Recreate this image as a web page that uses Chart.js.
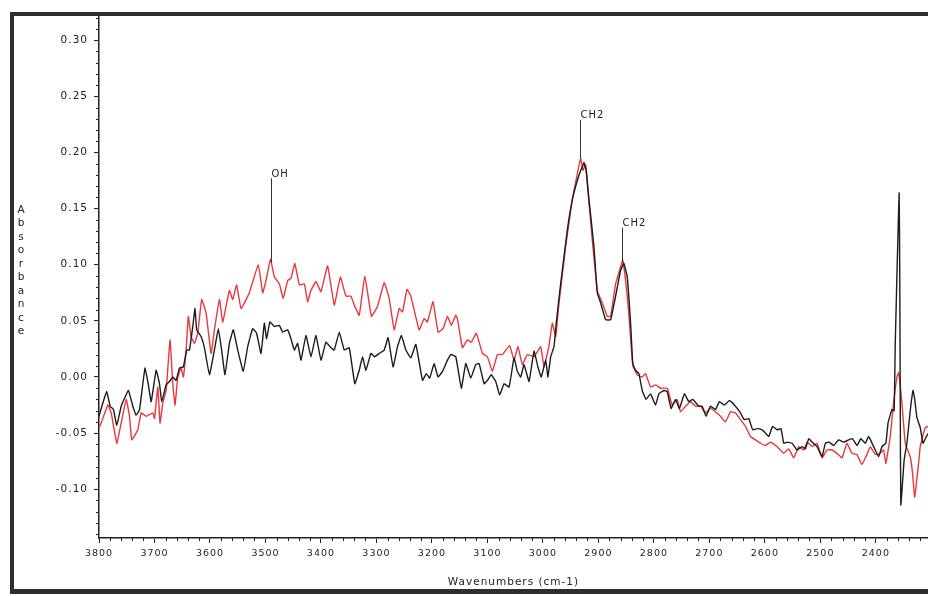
<!DOCTYPE html>
<html>
<head>
<meta charset="utf-8">
<script src="https://cdn.jsdelivr.net/npm/chart.js@4.4.1/dist/chart.umd.min.js"></script>
<style>
  html, body { margin: 0; padding: 0; background: #fff; overflow: hidden; }
  #wrap { position: relative; width: 928px; height: 596px; }
</style>
</head>
<body>
<div id="wrap"><canvas id="chart" width="928" height="596"></canvas></div>
<script>
// tick labels
const xTicks = [2400, 2500, 2600, 2700, 2800, 2900, 3000, 3100, 3200, 3300, 3400, 3500, 3600, 3700, 3800];
const yTicks = [-0.10, -0.05, 0.00, 0.05, 0.10, 0.15, 0.20, 0.25, 0.30];

// spectra: [wavenumber, absorbance]
const blackSpectrum = [
  [3800,-0.035],[3793,-0.023],[3786,-0.013],[3780,-0.026],[3774,-0.029],[3768,-0.043],[3760,-0.026],[3754,-0.019],
  [3747,-0.012],[3739,-0.026],[3733,-0.034],[3727,-0.029],[3721,-0.006],[3717,0.008],[3711,-0.007],[3706,-0.022],
  [3697,0.006],[3691,-0.006],[3687,-0.022],[3679,-0.007],[3673,-0.004],[3667,0.000],[3661,-0.003],[3655,0.008],
  [3648,0.009],[3642,0.024],[3637,0.024],[3631,0.045],[3627,0.061],[3624,0.042],[3616,0.036],[3610,0.026],
  [3601,0.002],[3592,0.024],[3585,0.043],[3579,0.024],[3573,0.002],[3565,0.030],[3558,0.042],[3550,0.024],
  [3540,0.005],[3532,0.027],[3523,0.043],[3516,0.039],[3508,0.021],[3502,0.048],[3498,0.034],[3492,0.049],
  [3484,0.045],[3475,0.046],[3469,0.040],[3460,0.042],[3454,0.034],[3448,0.024],[3442,0.030],[3436,0.015],
  [3427,0.037],[3418,0.018],[3409,0.037],[3400,0.015],[3391,0.031],[3382,0.026],[3376,0.024],[3367,0.040],
  [3358,0.024],[3349,0.026],[3339,-0.006],[3331,0.006],[3325,0.018],[3319,0.006],[3310,0.021],[3303,0.018],
  [3295,0.021],[3286,0.024],[3279,0.035],[3270,0.009],[3262,0.027],[3255,0.037],[3247,0.024],[3238,0.017],
  [3229,0.029],[3217,-0.003],[3210,0.003],[3204,-0.001],[3196,0.012],[3189,0.000],[3181,0.005],[3172,0.015],
  [3166,0.020],[3157,0.018],[3147,-0.010],[3139,0.012],[3130,-0.001],[3121,0.011],[3115,0.012],[3106,-0.006],
  [3100,-0.003],[3093,0.002],[3085,-0.004],[3078,-0.016],[3070,-0.006],[3061,-0.009],[3052,0.017],[3046,0.005],
  [3040,0.000],[3034,0.011],[3025,-0.004],[3016,0.023],[3009,0.009],[3003,0.000],[2995,0.015],[2991,0.000],
  [2986,0.018],[2980,0.027],[2976,0.048],[2968,0.083],[2956,0.131],[2947,0.158],[2938,0.175],[2932,0.184],
  [2929,0.187],[2926,0.191],[2922,0.184],[2917,0.158],[2908,0.116],[2902,0.075],[2896,0.066],[2887,0.051],
  [2878,0.051],[2869,0.072],[2860,0.095],[2854,0.101],[2848,0.089],[2842,0.048],[2838,0.012],[2833,0.006],
  [2827,0.003],[2821,-0.012],[2814,-0.020],[2806,-0.015],[2797,-0.025],[2791,-0.015],[2782,-0.012],[2776,-0.013],
  [2769,-0.028],[2761,-0.020],[2754,-0.028],[2745,-0.015],[2737,-0.022],[2730,-0.020],[2719,-0.026],[2713,-0.026],
  [2706,-0.035],[2698,-0.026],[2689,-0.029],[2682,-0.022],[2673,-0.025],[2664,-0.021],[2653,-0.026],[2644,-0.032],
  [2637,-0.038],[2629,-0.037],[2622,-0.047],[2614,-0.046],[2605,-0.047],[2599,-0.050],[2593,-0.053],[2586,-0.044],
  [2578,-0.047],[2571,-0.046],[2566,-0.059],[2560,-0.058],[2551,-0.059],[2542,-0.065],[2533,-0.062],[2527,-0.064],
  [2521,-0.055],[2515,-0.058],[2506,-0.062],[2497,-0.071],[2491,-0.059],[2484,-0.058],[2476,-0.061],[2467,-0.056],
  [2458,-0.058],[2449,-0.056],[2442,-0.055],[2434,-0.061],[2427,-0.055],[2419,-0.059],[2413,-0.053],[2404,-0.062],
  [2395,-0.071],[2389,-0.062],[2382,-0.059],[2378,-0.041],[2371,-0.029],[2367,-0.030],[2365,0.030],[2361,0.110],
  [2358,0.164],[2357,0.100],[2356,-0.020],[2355,-0.114],[2349,-0.074],[2344,-0.059],[2338,-0.030],[2333,-0.012],
  [2330,-0.020],[2326,-0.036],[2320,-0.045],[2315,-0.059],[2309,-0.053],[2305,-0.050]
];

const redSpectrum = [
  [3800,-0.045],[3796,-0.041],[3784,-0.025],[3778,-0.032],[3768,-0.059],[3760,-0.041],[3751,-0.020],[3745,-0.035],
  [3741,-0.056],[3730,-0.047],[3724,-0.032],[3715,-0.035],[3703,-0.032],[3700,-0.037],[3694,-0.009],[3690,-0.041],
  [3685,-0.023],[3679,-0.012],[3672,0.033],[3667,-0.006],[3663,-0.025],[3658,0.000],[3652,0.008],[3648,0.000],
  [3643,0.024],[3639,0.054],[3634,0.036],[3628,0.030],[3622,0.039],[3615,0.069],[3607,0.057],[3598,0.021],
  [3592,0.042],[3583,0.069],[3577,0.049],[3565,0.077],[3559,0.069],[3552,0.082],[3544,0.061],[3529,0.075],
  [3513,0.100],[3505,0.075],[3499,0.086],[3491,0.105],[3484,0.089],[3475,0.083],[3468,0.070],[3460,0.086],
  [3454,0.088],[3447,0.101],[3439,0.082],[3430,0.083],[3424,0.067],[3418,0.077],[3409,0.085],[3400,0.076],
  [3388,0.099],[3376,0.064],[3365,0.089],[3355,0.072],[3346,0.072],[3340,0.064],[3331,0.055],[3321,0.090],
  [3309,0.054],[3298,0.063],[3286,0.084],[3277,0.070],[3268,0.042],[3259,0.061],[3253,0.058],[3245,0.078],
  [3238,0.072],[3223,0.042],[3214,0.052],[3208,0.049],[3198,0.067],[3189,0.040],[3180,0.043],[3172,0.054],
  [3165,0.046],[3157,0.055],[3154,0.052],[3145,0.026],[3136,0.033],[3129,0.031],[3120,0.039],[3109,0.021],
  [3100,0.018],[3091,0.005],[3082,0.020],[3073,0.020],[3060,0.028],[3052,0.015],[3045,0.027],[3037,0.011],
  [3028,0.020],[3016,0.018],[3004,0.027],[2998,0.009],[2989,0.028],[2983,0.048],[2977,0.036],[2971,0.066],
  [2959,0.116],[2947,0.158],[2938,0.181],[2932,0.195],[2928,0.184],[2923,0.189],[2919,0.167],[2911,0.122],
  [2902,0.077],[2893,0.066],[2884,0.054],[2878,0.054],[2869,0.083],[2860,0.098],[2856,0.104],[2848,0.072],
  [2843,0.042],[2838,0.010],[2830,0.002],[2821,0.000],[2815,0.003],[2806,-0.009],[2797,-0.007],[2788,-0.010],
  [2776,-0.010],[2767,-0.025],[2758,-0.020],[2752,-0.031],[2743,-0.026],[2734,-0.022],[2725,-0.026],[2716,-0.026],
  [2707,-0.032],[2698,-0.028],[2689,-0.031],[2680,-0.035],[2671,-0.040],[2662,-0.031],[2653,-0.032],[2644,-0.038],
  [2635,-0.044],[2626,-0.053],[2617,-0.056],[2608,-0.059],[2599,-0.061],[2590,-0.058],[2578,-0.062],[2566,-0.068],
  [2557,-0.064],[2548,-0.072],[2539,-0.062],[2530,-0.065],[2524,-0.058],[2515,-0.062],[2506,-0.059],[2497,-0.072],
  [2488,-0.065],[2479,-0.065],[2470,-0.068],[2461,-0.072],[2452,-0.059],[2443,-0.068],[2434,-0.069],[2425,-0.078],
  [2416,-0.069],[2410,-0.062],[2401,-0.069],[2392,-0.068],[2386,-0.065],[2382,-0.077],[2374,-0.053],[2368,-0.023],
  [2362,0.000],[2359,0.004],[2353,-0.023],[2347,-0.059],[2338,-0.071],[2334,-0.085],[2330,-0.107],[2323,-0.077],
  [2320,-0.062],[2311,-0.045],[2305,-0.044]
];

// peak markers
const peakLabels = ['OH', 'CH2', 'CH2'];
const peakWave = [3490, 2934, 2857];
const peakTop = [0.177, 0.229, 0.133];
const peakEnd = [0.102, 0.195, 0.102];

const yTitle = 'Absorbance';
const ink = '#222';

Chart.defaults.font.family = '"DejaVu Sans", "Liberation Sans", sans-serif';
Chart.defaults.color = ink;

// the scan's type is wide; canvas letter spacing gets close to it
const spacing = {
  id: 'spacing',
  beforeUpdate(chart) { chart.ctx.letterSpacing = '1px'; },
  beforeDraw(chart) { chart.ctx.letterSpacing = '1px'; }
};

const minorTicks = {
  id: 'minorTicks',
  afterDraw(chart) {
    const { ctx, chartArea: a, scales: { x, y } } = chart;
    ctx.save();
    ctx.strokeStyle = ink;
    ctx.lineWidth = 1;
    ctx.beginPath();
    for (let v = 2320; v <= 3800; v += 20) {
      if (v % 100 === 0) continue;
      const px = Math.round(x.getPixelForValue(v)) + 0.5;
      ctx.moveTo(px, a.bottom);
      ctx.lineTo(px, a.bottom + 3);
    }
    for (let i = -14; i <= 32; i++) {
      if (i % 5 === 0) continue;
      const py = Math.round(y.getPixelForValue(i / 100)) + 0.5;
      ctx.moveTo(a.left - 3, py);
      ctx.lineTo(a.left, py);
    }
    ctx.stroke();
    ctx.restore();
  }
};

const peakMarks = {
  id: 'peakMarks',
  afterDatasetsDraw(chart) {
    const { ctx, scales: { x, y } } = chart;
    ctx.save();
    ctx.strokeStyle = '#333';
    ctx.fillStyle = ink;
    ctx.lineWidth = 1;
    ctx.font = '10px "DejaVu Sans"';
    ctx.letterSpacing = '1px';
    ctx.textAlign = 'left';
    ctx.textBaseline = 'bottom';
    peakLabels.forEach((label, i) => {
      const px = Math.round(x.getPixelForValue(peakWave[i])) + 0.5;
      const top = y.getPixelForValue(peakTop[i]);
      ctx.beginPath();
      ctx.moveTo(px, top);
      ctx.lineTo(px, y.getPixelForValue(peakEnd[i]));
      ctx.stroke();
      ctx.fillText(label, px, top + 1);
    });
    ctx.restore();
  }
};

const decor = {
  id: 'decor',
  afterDraw(chart) {
    const { ctx, width } = chart;
    ctx.save();
    // stacked axis title
    ctx.fillStyle = ink;
    ctx.font = '10.5px "DejaVu Sans"';
    ctx.letterSpacing = '0px';
    ctx.textAlign = 'center';
    ctx.textBaseline = 'middle';
    [...yTitle].forEach((ch, i) => ctx.fillText(ch, 21, 210 + i * 13.5));
    // dark scan frame
    ctx.fillStyle = '#2e2e2e';
    ctx.fillRect(10, 12, width - 10, 4);
    ctx.fillRect(10, 12, 4, 582);
    ctx.fillRect(10, 589, width - 10, 5);
    ctx.restore();
  }
};

new Chart(document.getElementById('chart'), {
  type: 'line',
  data: {
    datasets: [
      {
        label: 'sample',
        data: blackSpectrum.map(([w, a]) => ({ x: w, y: a })),
        borderColor: '#1c1c1c',
        borderWidth: 1.4,
        pointRadius: 0,
        tension: 0.1,
      },
      {
        label: 'reference',
        data: redSpectrum.map(([w, a]) => ({ x: w, y: a })),
        borderColor: '#e8383d',
        borderWidth: 1.4,
        pointRadius: 0,
        tension: 0.1,
      },
    ],
  },
  options: {
    responsive: false,
    animation: false,
    layout: { padding: { top: 15, left: 0, right: 0, bottom: 0 } },
    plugins: { legend: { display: false }, tooltip: { enabled: false } },
    scales: {
      x: {
        type: 'linear',
        reverse: true,
        min: 2306,
        max: 3800,
        afterBuildTicks: s => { s.ticks = xTicks.map(v => ({ value: v })); },
        afterFit: s => { s.height = 58; },
        grid: { drawOnChartArea: false, drawTicks: true, tickLength: 5, tickColor: ink },
        border: { color: ink, width: 1.5 },
        ticks: { font: { size: 9.5 }, color: ink, padding: 5, maxRotation: 0, autoSkip: false, callback: v => String(v) },
        title: { display: true, text: 'Wavenumbers (cm-1)', font: { size: 10.5 }, color: ink, padding: { top: 0, bottom: 7 } },
      },
      y: {
        min: -0.1434,
        max: 0.3224,
        afterBuildTicks: s => { s.ticks = yTicks.map(v => ({ value: v })); },
        afterFit: s => { s.width = 99; },
        grid: { drawOnChartArea: false, drawTicks: true, tickLength: 5, tickColor: ink },
        border: { color: ink, width: 1.5 },
        ticks: { font: { size: 10.5 }, color: ink, padding: 6, callback: v => v.toFixed(2) },
      },
    },
  },
  plugins: [spacing, minorTicks, peakMarks, decor],
});
</script>
</body>
</html>
